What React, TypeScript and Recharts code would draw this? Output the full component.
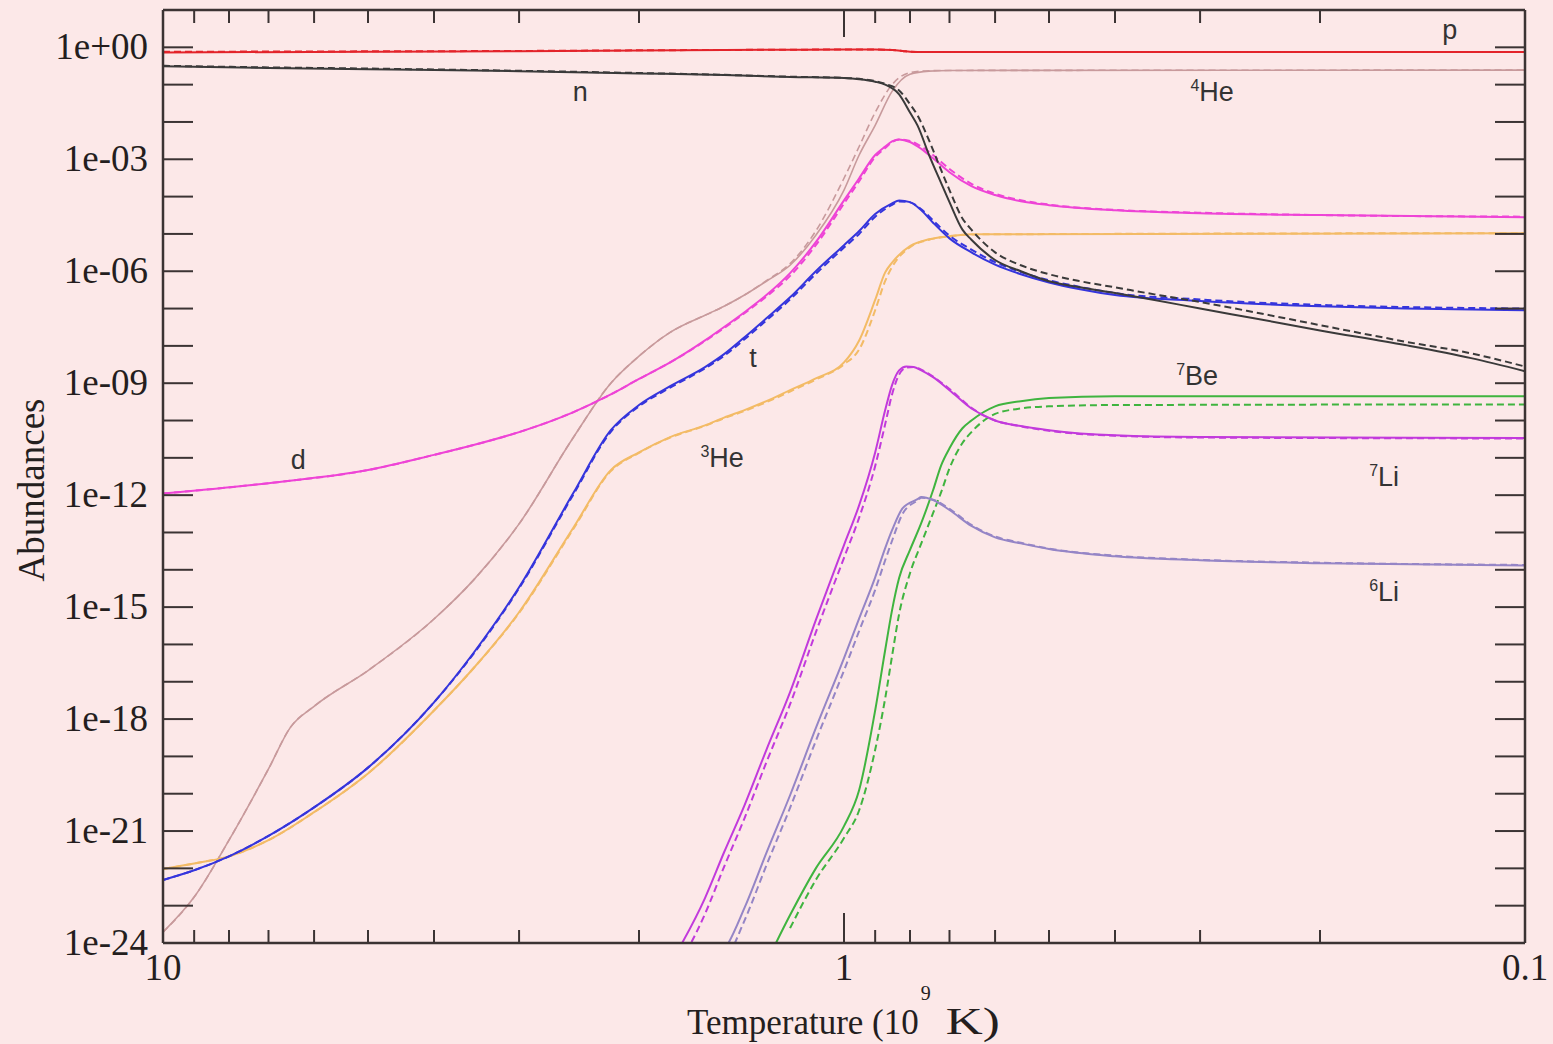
import React from 'react';
import { LineChart, Line, XAxis, YAxis, ReferenceDot } from 'recharts';

type Point = [number, number];

// Temperature in units of 10^9 K (axis runs from hot to cold)
const temperatureTicks = [10, 9, 8, 7, 6, 5, 4, 3, 2, 1, 0.9, 0.8, 0.7, 0.6, 0.5, 0.4, 0.3, 0.2, 0.1];
const temperatureTickLabels = ['10', '', '', '', '', '', '', '', '', '1', '', '', '', '', '', '', '', '', '0.1'];

const abundanceTicks = [
  1, 1e-1, 1e-2, 1e-3, 1e-4, 1e-5, 1e-6, 1e-7, 1e-8, 1e-9, 1e-10, 1e-11, 1e-12,
  1e-13, 1e-14, 1e-15, 1e-16, 1e-17, 1e-18, 1e-19, 1e-20, 1e-21, 1e-22, 1e-23, 1e-24,
];
const abundanceTickLabels = [
  '1e+00', '', '', '1e-03', '', '', '1e-06', '', '', '1e-09', '', '', '1e-12',
  '', '', '1e-15', '', '', '1e-18', '', '', '1e-21', '', '', '1e-24',
];

// Each species: solid = reference network, dashed = comparison network
const protonSolid: Point[] = [[10, 0.73], [5, 0.76], [3, 0.79], [2, 0.82], [1.5, 0.85], [1, 0.87], [0.9, 0.87], [0.85, 0.85], [0.82, 0.8], [0.8, 0.76], [0.77, 0.75], [0.1, 0.75]];
const protonDashed: Point[] = [[10, 0.76], [5, 0.78], [3, 0.8], [2, 0.83], [1.5, 0.85], [1, 0.87], [0.9, 0.87], [0.85, 0.85], [0.82, 0.8], [0.8, 0.76], [0.77, 0.75], [0.1, 0.75]];

const neutronSolid: Point[] = [[10, 0.31], [7, 0.28], [5, 0.26], [3, 0.23], [2, 0.2], [1.5, 0.18], [1.2, 0.16], [1, 0.15], [0.95, 0.14], [0.9, 0.12], [0.87, 0.1], [0.83, 0.055], [0.8, 0.018], [0.78, 8.1e-3], [0.75, 1.3e-3], [0.72, 2.3e-4], [0.7, 7.1e-5], [0.67, 1.3e-5], [0.65, 7.0e-6], [0.6, 2.0e-6], [0.55, 1.0e-6], [0.5, 5.4e-7], [0.45, 3.7e-7], [0.4, 2.6e-7], [0.35, 1.7e-7], [0.3, 1.0e-7], [0.25, 5.5e-8], [0.2, 2.6e-8], [0.15, 1.05e-8], [0.12, 4.7e-9], [0.1, 2.1e-9]];
const neutronDashed: Point[] = [[10, 0.32], [7, 0.29], [5, 0.27], [3, 0.235], [2, 0.205], [1.5, 0.183], [1.2, 0.163], [1, 0.152], [0.95, 0.143], [0.9, 0.125], [0.87, 0.105], [0.83, 0.07], [0.8, 0.03], [0.78, 0.015], [0.75, 3.2e-3], [0.72, 5.1e-4], [0.7, 1.5e-4], [0.67, 2.6e-5], [0.65, 1.3e-5], [0.6, 3.2e-6], [0.55, 1.45e-6], [0.5, 8.3e-7], [0.45, 5.4e-7], [0.4, 3.7e-7], [0.35, 2.4e-7], [0.3, 1.5e-7], [0.25, 8.0e-8], [0.2, 3.6e-8], [0.15, 1.3e-8], [0.12, 6.3e-9], [0.1, 2.8e-9]];

const helium4Solid: Point[] = [[10, 1.95e-24], [9, 1.7e-23], [8, 5.7e-22], [7, 4.6e-20], [6.5, 6.0e-19], [6, 2.2e-18], [5, 2.0e-17], [4, 4.8e-16], [3.5, 5.3e-15], [3, 1.7e-13], [2.5, 3.4e-11], [2.2, 1.0e-9], [2, 5.3e-9], [1.8, 2.3e-8], [1.6, 6.6e-8], [1.5, 1.15e-7], [1.4, 2.3e-7], [1.3, 5.4e-7], [1.2, 1.45e-6], [1.1, 9.2e-6], [1, 1.5e-4], [0.95, 1.3e-3], [0.9, 8.1e-3], [0.85, 0.066], [0.8, 0.19], [0.75, 0.23], [0.7, 0.24], [0.1, 0.245]];
const helium4Dashed: Point[] = [[10, 1.95e-24], [9, 1.7e-23], [8, 5.7e-22], [7, 4.6e-20], [6.5, 6.0e-19], [6, 2.2e-18], [5, 2.0e-17], [4, 4.8e-16], [3.5, 5.3e-15], [3, 1.7e-13], [2.5, 3.4e-11], [2.2, 1.0e-9], [2, 5.3e-9], [1.8, 2.3e-8], [1.6, 6.6e-8], [1.5, 1.15e-7], [1.4, 2.3e-7], [1.3, 5.6e-7], [1.2, 1.6e-6], [1.1, 1.2e-5], [1, 3.1e-4], [0.95, 2.2e-3], [0.9, 0.018], [0.85, 0.1], [0.8, 0.21], [0.75, 0.235], [0.7, 0.24], [0.1, 0.245]];

const deuteriumSolid: Point[] = [[10, 1.1e-12], [7, 2.1e-12], [5, 4.7e-12], [4, 1.2e-11], [3.5, 2.2e-11], [3, 4.9e-11], [2.5, 1.66e-10], [2.2, 5.0e-10], [2, 1.3e-9], [1.8, 3.6e-9], [1.6, 1.4e-8], [1.5, 3.2e-8], [1.4, 8.0e-8], [1.3, 2.3e-7], [1.2, 8.9e-7], [1.1, 6.0e-6], [1, 7.9e-5], [0.95, 3.1e-4], [0.9, 1.3e-3], [0.87, 2.2e-3], [0.85, 3.0e-3], [0.83, 3.4e-3], [0.8, 2.9e-3], [0.77, 1.9e-3], [0.74, 1.07e-3], [0.7, 4.5e-4], [0.65, 1.9e-4], [0.6, 1.1e-4], [0.55, 7.5e-5], [0.5, 5.9e-5], [0.4, 4.3e-5], [0.3, 3.6e-5], [0.2, 3.2e-5], [0.1, 2.8e-5]];
const deuteriumDashed: Point[] = [[10, 1.1e-12], [7, 2.1e-12], [5, 4.7e-12], [4, 1.2e-11], [3.5, 2.2e-11], [3, 4.9e-11], [2.5, 1.66e-10], [2.2, 5.0e-10], [2, 1.3e-9], [1.8, 3.6e-9], [1.6, 1.35e-8], [1.5, 3.0e-8], [1.4, 7.5e-8], [1.3, 2.1e-7], [1.2, 7.5e-7], [1.1, 5.0e-6], [1, 6.5e-5], [0.95, 2.6e-4], [0.9, 1.15e-3], [0.87, 2.0e-3], [0.85, 2.9e-3], [0.83, 3.4e-3], [0.8, 3.1e-3], [0.77, 2.2e-3], [0.74, 1.3e-3], [0.7, 5.5e-4], [0.65, 2.2e-4], [0.6, 1.2e-4], [0.55, 8.0e-5], [0.5, 6.1e-5], [0.4, 4.4e-5], [0.3, 3.7e-5], [0.2, 3.2e-5], [0.1, 2.9e-5]];

const tritiumSolid: Point[] = [[10, 4.9e-23], [9, 8.9e-23], [8, 2.1e-22], [7, 7.4e-22], [6, 4.3e-21], [5, 5.0e-20], [4, 2.8e-18], [3.5, 5.9e-17], [3, 3.4e-15], [2.5, 1.1e-12], [2.2, 5.5e-11], [2, 2.6e-10], [1.8, 8.3e-10], [1.6, 2.7e-9], [1.5, 6.0e-9], [1.4, 1.7e-8], [1.3, 5.5e-8], [1.2, 2.0e-7], [1.1, 1.0e-6], [1, 5.0e-6], [0.95, 1.2e-5], [0.9, 3.4e-5], [0.85, 6.6e-5], [0.83, 7.9e-5], [0.8, 7.1e-5], [0.77, 4.3e-5], [0.74, 2.0e-5], [0.7, 7.6e-6], [0.65, 3.2e-6], [0.6, 1.5e-6], [0.55, 8.3e-7], [0.5, 5.0e-7], [0.45, 3.3e-7], [0.4, 2.3e-7], [0.3, 1.6e-7], [0.2, 1.15e-7], [0.15, 1.0e-7], [0.1, 9.0e-8]];
const tritiumDashed: Point[] = [[10, 4.9e-23], [9, 8.9e-23], [8, 2.1e-22], [7, 7.4e-22], [6, 4.3e-21], [5, 5.0e-20], [4, 2.8e-18], [3.5, 5.6e-17], [3, 3.2e-15], [2.5, 1.0e-12], [2.2, 5.0e-11], [2, 2.4e-10], [1.8, 7.6e-10], [1.6, 2.5e-9], [1.5, 5.4e-9], [1.4, 1.5e-8], [1.3, 4.8e-8], [1.2, 1.75e-7], [1.1, 8.5e-7], [1, 4.3e-6], [0.95, 1.0e-5], [0.9, 2.9e-5], [0.85, 6.0e-5], [0.83, 7.4e-5], [0.8, 7.0e-5], [0.77, 4.6e-5], [0.74, 2.3e-5], [0.7, 9.0e-6], [0.65, 3.8e-6], [0.6, 1.75e-6], [0.55, 9.5e-7], [0.5, 5.7e-7], [0.45, 3.8e-7], [0.4, 2.6e-7], [0.3, 1.75e-7], [0.2, 1.25e-7], [0.15, 1.1e-7], [0.1, 1.0e-7]];

const helium3Solid: Point[] = [[10, 9.6e-23], [9, 1.35e-22], [8, 2.1e-22], [7, 5.7e-22], [6, 3.2e-21], [5, 3.5e-20], [4, 1.7e-18], [3.5, 2.3e-17], [3, 7.3e-16], [2.5, 1.3e-13], [2.2, 4.7e-12], [2, 1.4e-11], [1.8, 3.6e-11], [1.6, 7.4e-11], [1.5, 1.2e-10], [1.4, 1.9e-10], [1.3, 3.3e-10], [1.2, 6.5e-10], [1.1, 1.35e-9], [1, 3.6e-9], [0.95, 1.4e-8], [0.9, 1.7e-7], [0.87, 9.3e-7], [0.85, 1.7e-6], [0.8, 4.7e-6], [0.75, 7.2e-6], [0.7, 8.7e-6], [0.65, 9.8e-6], [0.1, 1.05e-5]];
const helium3Dashed: Point[] = [[10, 9.6e-23], [9, 1.35e-22], [8, 2.1e-22], [7, 5.7e-22], [6, 3.2e-21], [5, 3.5e-20], [4, 1.7e-18], [3.5, 2.3e-17], [3, 7.0e-16], [2.5, 1.2e-13], [2.2, 4.4e-12], [2, 1.35e-11], [1.8, 3.5e-11], [1.6, 7.2e-11], [1.5, 1.15e-10], [1.4, 1.8e-10], [1.3, 3.1e-10], [1.2, 6.0e-10], [1.1, 1.25e-9], [1, 3.2e-9], [0.95, 8.0e-9], [0.9, 9.0e-8], [0.87, 5.5e-7], [0.85, 1.3e-6], [0.8, 4.4e-6], [0.75, 7.0e-6], [0.7, 8.6e-6], [0.65, 9.7e-6], [0.1, 1.05e-5]];

const lithium7Solid: Point[] = [[1.8, 2.7e-25], [1.6, 1.6e-23], [1.5, 2.7e-22], [1.4, 4.9e-21], [1.3, 1.5e-19], [1.2, 5.3e-18], [1.1, 4.5e-16], [1, 4.6e-14], [0.95, 5.4e-13], [0.9, 1.4e-11], [0.87, 1.9e-10], [0.85, 8.9e-10], [0.83, 2.2e-9], [0.81, 2.8e-9], [0.79, 2.7e-9], [0.77, 2.2e-9], [0.74, 1.45e-9], [0.7, 6.5e-10], [0.65, 2.1e-10], [0.6, 1.0e-10], [0.55, 7.1e-11], [0.5, 5.5e-11], [0.4, 4.0e-11], [0.3, 3.6e-11], [0.1, 3.4e-11]];
const lithium7Dashed: Point[] = [[1.8, 1.0e-25], [1.6, 6.0e-24], [1.5, 1.1e-22], [1.4, 2.2e-21], [1.3, 7.0e-20], [1.2, 2.5e-18], [1.1, 2.1e-16], [1, 2.1e-14], [0.95, 2.5e-13], [0.9, 6.0e-12], [0.87, 8.0e-11], [0.85, 5.0e-10], [0.83, 1.7e-9], [0.81, 2.6e-9], [0.79, 2.7e-9], [0.77, 2.3e-9], [0.74, 1.5e-9], [0.7, 7.0e-10], [0.65, 2.2e-10], [0.6, 1.0e-10], [0.55, 7.0e-11], [0.5, 5.3e-11], [0.4, 3.9e-11], [0.3, 3.5e-11], [0.1, 3.3e-11]];

const lithium6Solid: Point[] = [[1.6, 3.1e-25], [1.5, 6.5e-25], [1.4, 8.7e-24], [1.3, 2.6e-22], [1.2, 9.1e-21], [1.1, 5.7e-19], [1, 4.3e-17], [0.95, 5.0e-16], [0.9, 6.3e-15], [0.87, 3.8e-14], [0.85, 1.15e-13], [0.82, 4.5e-13], [0.78, 7.8e-13], [0.77, 8.9e-13], [0.74, 7.4e-13], [0.7, 4.0e-13], [0.65, 1.5e-13], [0.6, 7.4e-14], [0.55, 5.1e-14], [0.5, 3.6e-14], [0.4, 2.3e-14], [0.3, 1.8e-14], [0.2, 1.5e-14], [0.1, 1.3e-14]];
const lithium6Dashed: Point[] = [[1.6, 1.5e-25], [1.5, 3.0e-25], [1.4, 4.0e-24], [1.3, 1.2e-22], [1.2, 4.2e-21], [1.1, 2.6e-19], [1, 2.0e-17], [0.95, 2.3e-16], [0.9, 2.9e-15], [0.87, 1.8e-14], [0.85, 6.0e-14], [0.82, 3.2e-13], [0.78, 7.2e-13], [0.77, 8.5e-13], [0.74, 7.6e-13], [0.7, 4.3e-13], [0.65, 1.6e-13], [0.6, 7.8e-14], [0.55, 5.3e-14], [0.5, 3.7e-14], [0.4, 2.4e-14], [0.3, 1.85e-14], [0.2, 1.55e-14], [0.1, 1.35e-14]];

const beryllium7Solid: Point[] = [[1.3, 3.0e-25], [1.2, 5.6e-24], [1.1, 1.0e-22], [1, 1.35e-21], [0.95, 1.26e-20], [0.9, 1.7e-18], [0.87, 7.1e-17], [0.85, 8.3e-16], [0.83, 6.0e-15], [0.8, 3.4e-14], [0.77, 1.8e-13], [0.74, 1.35e-12], [0.72, 6.3e-12], [0.7, 1.8e-11], [0.67, 6.2e-11], [0.65, 1.0e-10], [0.6, 2.4e-10], [0.55, 3.3e-10], [0.5, 4.0e-10], [0.4, 4.5e-10], [0.1, 4.5e-10]];
const beryllium7Dashed: Point[] = [[1.2, 2.5e-24], [1.1, 4.9e-23], [1, 6.5e-22], [0.95, 3.6e-21], [0.9, 1.5e-19], [0.87, 3.6e-18], [0.85, 4.9e-17], [0.83, 6.5e-16], [0.8, 8.1e-15], [0.77, 5.1e-14], [0.74, 3.3e-13], [0.72, 1.2e-12], [0.7, 5.2e-12], [0.67, 2.5e-11], [0.65, 4.9e-11], [0.6, 1.5e-10], [0.55, 2.1e-10], [0.5, 2.4e-10], [0.4, 2.6e-10], [0.1, 2.7e-10]];

const COLORS = {
  p: '#e3242b',
  n: '#3a3a3a',
  he4: '#c89a9c',
  d: '#ee44d6',
  t: '#3535dc',
  he3: '#f3bb66',
  li7: '#c23adc',
  li6: '#9585c6',
  be7: '#3fb43f',
};

// Species annotations placed in data coordinates [temperature, abundance]
const speciesLabels: { name: string; mass?: string; t: number; y: number }[] = [
  { name: 'p', t: 0.129, y: 2.85 },
  { name: 'n', t: 2.44, y: 0.062 },
  { name: 'He', mass: '4', t: 0.288, y: 0.062 },
  { name: 'd', t: 6.33, y: 8.6e-12 },
  { name: 't', t: 1.36, y: 4.7e-9 },
  { name: 'He', mass: '3', t: 1.51, y: 9.8e-12 },
  { name: 'Be', mass: '7', t: 0.303, y: 1.6e-9 },
  { name: 'Li', mass: '7', t: 0.161, y: 3.0e-12 },
  { name: 'Li', mass: '6', t: 0.161, y: 2.5e-15 },
];

const rows = (pts: Point[]) => pts.map(([t, v]) => ({ t, v }));

const AXIS_COLOR = '#3b3333';
const TEXT_COLOR = '#241e1e';
const SERIF = '"Liberation Serif", "Times New Roman", serif';
const SANS = '"Liberation Sans", Arial, sans-serif';
const TICK_FONT = 37;

const BottomTick = (props: any) => {
  const { x, y, payload } = props;
  const i = temperatureTicks.indexOf(payload.value);
  const label = temperatureTickLabels[i];
  const edge = i === 0 || i === temperatureTicks.length - 1;
  const len = payload.value === 1 ? 30 : 13;
  return (
    <g>
      {!edge && <line x1={x} x2={x} y1={y} y2={y - len} stroke={AXIS_COLOR} strokeWidth={2} />}
      {label && (
        <text x={x} y={y + 37} textAnchor="middle" fontFamily={SERIF} fontSize={TICK_FONT} fill={TEXT_COLOR}>
          {label}
        </text>
      )}
    </g>
  );
};

const TopTick = (props: any) => {
  const { x, y, payload } = props;
  const i = temperatureTicks.indexOf(payload.value);
  const edge = i === 0 || i === temperatureTicks.length - 1;
  const len = payload.value === 1 ? 27 : 13;
  return edge ? <g /> : <line x1={x} x2={x} y1={y} y2={y + len} stroke={AXIS_COLOR} strokeWidth={2} />;
};

const LeftTick = (props: any) => {
  const { x, y, payload } = props;
  const i = abundanceTicks.indexOf(payload.value);
  const label = abundanceTickLabels[i];
  const last = i === abundanceTicks.length - 1;
  return (
    <g>
      {!last && <line x1={x} x2={x + 30} y1={y} y2={y} stroke={AXIS_COLOR} strokeWidth={2} />}
      {label && (
        <text x={x - 15} y={y + 12} textAnchor="end" fontFamily={SERIF} fontSize={TICK_FONT} fill={TEXT_COLOR}>
          {label}
        </text>
      )}
    </g>
  );
};

const RightTick = (props: any) => {
  const { x, y, payload } = props;
  const i = abundanceTicks.indexOf(payload.value);
  const last = i === abundanceTicks.length - 1;
  return last ? <g /> : <line x1={x} x2={x - 30} y1={y} y2={y} stroke={AXIS_COLOR} strokeWidth={2} />;
};

const XTitle = (props: any) => {
  const { x, y } = props.viewBox;
  return (
    <text x={x + 524} y={y + 91} textAnchor="start" fontFamily={SERIF} fontSize={35} fill={TEXT_COLOR}>
      Temperature (10
      <tspan dy={-34} dx={2} fontSize={20}>9</tspan>
      <tspan dy={34} dx={15} fontSize={37} textLength={54} lengthAdjust="spacingAndGlyphs">K)</tspan>
    </text>
  );
};

const YTitle = (props: any) => {
  const { x, y } = props.viewBox;
  const cx = x + 32;
  const cy = y + 480;
  return (
    <text x={cx} y={cy + 12} transform={`rotate(-90, ${cx}, ${cy})`} textAnchor="middle" fontFamily={SERIF} fontSize={37} fill={TEXT_COLOR}>
      Abundances
    </text>
  );
};

const speciesLabel = (name: string, mass?: string) => (props: any) => {
  const { x, y } = props.viewBox;
  return (
    <text x={x} y={y + 9} textAnchor="middle" fontFamily={SANS} fontSize={27} fill="#333333">
      {mass && <tspan fontSize={16} dy={-10}>{mass}</tspan>}
      <tspan dy={mass ? 10 : 0}>{name}</tspan>
    </text>
  );
};

const series: { key: string; data: Point[]; color: string; dashed?: boolean; width?: number }[] = [
  { key: 'he4', data: helium4Solid, color: COLORS.he4, width: 1.6 },
  { key: 'he4d', data: helium4Dashed, color: COLORS.he4, dashed: true, width: 1.6 },
  { key: 'he3', data: helium3Solid, color: COLORS.he3 },
  { key: 'he3d', data: helium3Dashed, color: COLORS.he3, dashed: true },
  { key: 't', data: tritiumSolid, color: COLORS.t },
  { key: 'td', data: tritiumDashed, color: COLORS.t, dashed: true },
  { key: 'd', data: deuteriumSolid, color: COLORS.d },
  { key: 'dd', data: deuteriumDashed, color: COLORS.d, dashed: true },
  { key: 'be7', data: beryllium7Solid, color: COLORS.be7 },
  { key: 'be7d', data: beryllium7Dashed, color: COLORS.be7, dashed: true },
  { key: 'li6', data: lithium6Solid, color: COLORS.li6 },
  { key: 'li6d', data: lithium6Dashed, color: COLORS.li6, dashed: true },
  { key: 'li7', data: lithium7Solid, color: COLORS.li7 },
  { key: 'li7d', data: lithium7Dashed, color: COLORS.li7, dashed: true },
  { key: 'n', data: neutronSolid, color: COLORS.n },
  { key: 'nd', data: neutronDashed, color: COLORS.n, dashed: true },
  { key: 'p', data: protonSolid, color: COLORS.p },
  { key: 'pd', data: protonDashed, color: COLORS.p, dashed: true },
];

export default function App() {
  return (
    <div style={{ position: 'absolute', left: 0, top: 0, width: 1553, height: 1044, background: '#fce8e8' }}>
      <LineChart width={1553} height={1044} margin={{ top: 0, right: 0, bottom: 0, left: 0 }}>
        <XAxis
          xAxisId="bottom"
          orientation="bottom"
          dataKey="t"
          type="number"
          scale="log"
          domain={[0.1, 10]}
          reversed
          allowDataOverflow
          ticks={temperatureTicks}
          interval={0}
          tick={BottomTick}
          tickLine={false}
          tickSize={0}
          tickMargin={0}
          height={101}
          axisLine={{ stroke: AXIS_COLOR, strokeWidth: 2.5 }}
          label={XTitle}
        />
        <XAxis
          xAxisId="top"
          orientation="top"
          dataKey="t"
          type="number"
          scale="log"
          domain={[0.1, 10]}
          reversed
          allowDataOverflow
          ticks={temperatureTicks}
          interval={0}
          tick={TopTick}
          tickLine={false}
          tickSize={0}
          tickMargin={0}
          height={10}
          axisLine={{ stroke: AXIS_COLOR, strokeWidth: 2.5 }}
        />
        <YAxis
          yAxisId="left"
          orientation="left"
          type="number"
          scale="log"
          domain={[1e-24, 10]}
          allowDataOverflow
          ticks={abundanceTicks}
          interval={0}
          tick={LeftTick}
          tickLine={false}
          tickSize={0}
          tickMargin={0}
          width={163}
          axisLine={{ stroke: AXIS_COLOR, strokeWidth: 2.5 }}
          label={YTitle}
        />
        <YAxis
          yAxisId="right"
          orientation="right"
          type="number"
          scale="log"
          domain={[1e-24, 10]}
          allowDataOverflow
          ticks={abundanceTicks}
          interval={0}
          tick={RightTick}
          tickLine={false}
          tickSize={0}
          tickMargin={0}
          width={28}
          axisLine={{ stroke: AXIS_COLOR, strokeWidth: 2.5 }}
        />
        {series.map((s) => (
          <Line
            key={s.key}
            xAxisId="bottom"
            yAxisId="left"
            data={rows(s.data)}
            dataKey="v"
            type="monotone"
            stroke={s.color}
            strokeWidth={s.width ?? 2}
            strokeDasharray={s.dashed ? '7 4' : undefined}
            dot={false}
            activeDot={false}
            isAnimationActive={false}
          />
        ))}
        {speciesLabels.map((l, i) => (
          <ReferenceDot
            key={i}
            xAxisId="bottom"
            yAxisId="left"
            x={l.t}
            y={l.y}
            r={0}
            fill="none"
            stroke="none"
            label={speciesLabel(l.name, l.mass)}
          />
        ))}
      </LineChart>
    </div>
  );
}
